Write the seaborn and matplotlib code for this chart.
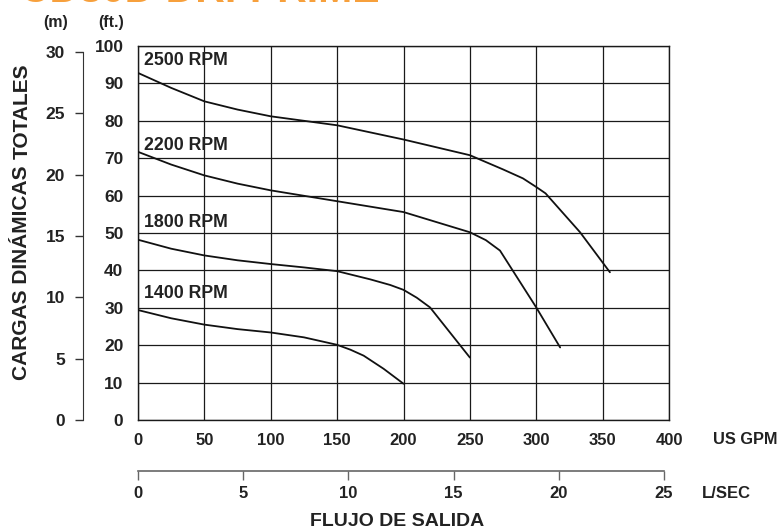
import matplotlib
matplotlib.use("Agg")
import matplotlib.pyplot as plt
import seaborn as sns
import pandas as pd

# ---- data (US GPM, ft) ----
gpm_2500 = [0, 25, 50, 75, 100, 150, 200, 250, 275, 290, 300, 307, 333, 355.5]
ft_2500 = [92.8, 88.8, 85.2, 83.0, 81.2, 78.8, 75.0, 70.8, 67.0, 64.6, 62.3, 60.6, 50.2, 39.5]
gpm_2200 = [0, 25, 50, 75, 100, 150, 200, 225, 250, 262, 272.7, 300, 318]
ft_2200 = [71.7, 68.3, 65.4, 63.2, 61.4, 58.5, 55.6, 52.9, 50.2, 48.1, 45.3, 30.1, 19.4]
gpm_1800 = [0, 25, 50, 75, 100, 125, 150, 175, 190, 200, 210, 220, 250]
ft_1800 = [48.2, 45.8, 44.0, 42.7, 41.7, 40.8, 39.8, 37.6, 36.1, 34.8, 32.7, 30.1, 16.7]
gpm_1400 = [0, 25, 50, 75, 100, 125, 150, 160, 170, 185, 200]
ft_1400 = [29.4, 27.2, 25.5, 24.3, 23.4, 22.1, 20.1, 18.8, 17.2, 13.7, 9.7]
rpm_labels = ["2500 RPM", "2200 RPM", "1800 RPM", "1400 RPM"]
rpm_label_ft = [96.1, 73.4, 52.8, 33.8]

gpm_ticks = [0, 50, 100, 150, 200, 250, 300, 350, 400]
ft_ticks = [0, 10, 20, 30, 40, 50, 60, 70, 80, 90, 100]
m_ticks = [0, 5, 10, 15, 20, 25, 30]
lsec_ticks = [0, 5, 10, 15, 20, 25]

title = "CD80D DRI-PRIME"

rows = []
for lab, xs, ys in zip(rpm_labels, [gpm_2500, gpm_2200, gpm_1800, gpm_1400],
                       [ft_2500, ft_2200, ft_1800, ft_1400]):
    for x, y in zip(xs, ys):
        rows.append({"rpm": lab, "gpm": x, "ft": y})
df = pd.DataFrame(rows)

sns.set_style("white")
plt.rcParams["font.family"] = ["Liberation Sans", "DejaVu Sans"]
plt.rcParams["font.weight"] = "bold"

W, H = 780, 531
fig = plt.figure(figsize=(W / 100, H / 100), dpi=100)
L, R, T, B = 138, 669, 46, 420
ax = fig.add_axes([L / W, 1 - B / H, (R - L) / W, (B - T) / H])

sns.lineplot(data=df, x="gpm", y="ft", hue="rpm", palette=["#111111"] * 4,
             sort=False, estimator=None, legend=False, linewidth=1.3, ax=ax, zorder=5)

ax.set_xlim(0, 400)
ax.set_ylim(0, 100)
ax.set_xticks(gpm_ticks)
ax.set_yticks(ft_ticks)
ax.set_xticklabels([str(t) for t in gpm_ticks], fontsize=12, fontweight="bold", color="#222222")
ax.set_yticklabels([str(t) for t in ft_ticks], fontsize=12.5, fontweight="bold", color="#222222")
ax.tick_params(axis="x", length=0, pad=9.5)
ax.tick_params(axis="y", length=0, pad=10.5)
ax.grid(True, color="#1a1a1a", linewidth=0.9)
for s in ax.spines.values():
    s.set_color("#1a1a1a")
    s.set_linewidth(1.0)
ax.set_xlabel("")
ax.set_ylabel("")

for lab, yv in zip(rpm_labels, rpm_label_ft):
    ax.text(4.5, yv, lab, fontsize=12.8, fontweight="bold", color="#222222",
            ha="left", va="center", zorder=6)

# meters axis
ax2 = ax.twinx()
ax2.set_ylim(0, 100 * 0.3048)
ax2.yaxis.set_ticks_position("left")
ax2.spines["left"].set_position(("outward", 55 * 0.72))
ax2.spines["left"].set_bounds(0, 30)
ax2.spines["left"].set_color("#333333")
for s in ["right", "top", "bottom"]:
    ax2.spines[s].set_visible(False)
ax2.set_yticks(m_ticks)
ax2.set_yticklabels([str(t) for t in m_ticks], fontsize=12.5, fontweight="bold", color="#222222")
ax2.tick_params(axis="y", direction="out", length=6, width=1, color="#333333", pad=7)
ax2.grid(False)

# L/SEC axis
ax3 = ax.twiny()
ax3.set_xlim(0, 400 * 0.0630902)
ax3.xaxis.set_ticks_position("bottom")
ax3.spines["bottom"].set_position(("outward", 51 * 0.72))
ax3.spines["bottom"].set_bounds(0, 25)
ax3.spines["bottom"].set_color("#666666")
ax3.spines["bottom"].set_linewidth(1.2)
for s in ["right", "top", "left"]:
    ax3.spines[s].set_visible(False)
ax3.set_xticks(lsec_ticks)
ax3.set_xticklabels([str(t) for t in lsec_ticks], fontsize=12, fontweight="bold", color="#222222")
ax3.tick_params(axis="x", direction="out", length=6.5, width=1, color="#666666", pad=4.5)
ax3.grid(False)

# texts
fig.text(745 / W, 1 - 440 / H, "US GPM", fontsize=11.8, fontweight="bold", color="#222222",
         ha="center", va="center")
fig.text(726 / W, 1 - 493 / H, "L/SEC", fontsize=12, fontweight="bold", color="#222222",
         ha="center", va="center")
fig.text(397 / W, 1 - 522 / H, "FLUJO DE SALIDA", fontsize=14, fontweight="bold",
         color="#222222", ha="center", va="center")
fig.text(56 / W, 1 - 22 / H, "(m)", fontsize=11.5, fontweight="bold", color="#222222",
         ha="center", va="center")
fig.text(111 / W, 1 - 22 / H, "(ft.)", fontsize=11.5, fontweight="bold", color="#222222",
         ha="center", va="center")
fig.text(22 / W, 1 - 380 / H, "CARGAS DINÁMICAS", fontsize=15, fontweight="bold",
         color="#222222", rotation=90, ha="center", va="bottom")
fig.text(22 / W, 1 - 63 / H, "TOTALES", fontsize=15, fontweight="bold",
         color="#222222", rotation=90, ha="center", va="top")
fig.text(20 / W, 1 - 2 / H, title, fontsize=29.5, fontweight="bold", color="#F7A03C",
         ha="left", va="baseline")

fig.savefig("out.png", dpi=100)
